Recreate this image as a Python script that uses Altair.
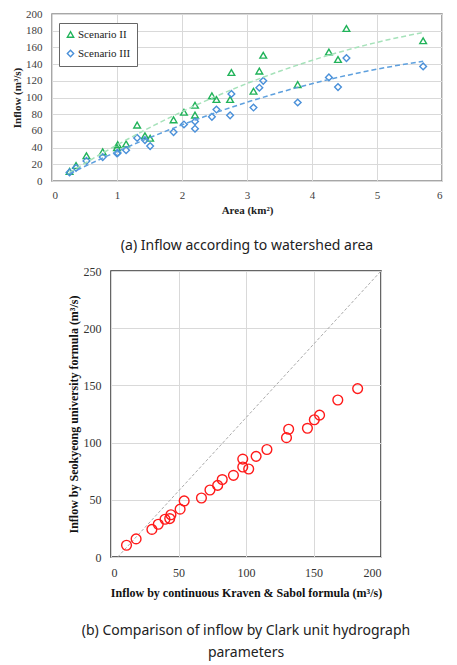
import altair as alt
import pandas as pd

# ---- data ----
area = [0.27, 0.37, 0.53, 0.78, 1.00, 1.01, 1.14, 1.31, 1.43, 1.51, 1.87, 2.03, 2.20,
        2.20, 2.46, 2.53, 2.74, 2.76, 3.10, 3.19, 3.25, 3.78, 4.26, 4.40, 4.53, 5.71]
scenario_2 = [11.5, 18.6, 30.3, 35.0, 40.0, 43.5, 44.4, 67.0, 54.2, 51.2, 73.3, 82.4, 90.7,
              79.0, 102.0, 97.6, 97.6, 130.0, 107.5, 131.6, 150.6, 115.5, 154.5, 145.5, 182.7, 168.0]
scenario_3 = [10.3, 15.8, 24.1, 28.6, 33.0, 33.6, 36.9, 51.6, 49.0, 41.8, 58.6, 67.7, 71.4,
              62.6, 76.9, 85.6, 78.7, 104.3, 88.0, 111.7, 120.0, 94.0, 124.0, 112.5, 147.2, 137.2]
series_names = ["Scenario II", "Scenario III"]
diag_x = [5, 200]
diag_y = [0, 250]

top_x_ticks = [0, 1, 2, 3, 4, 5, 6]
top_y_ticks = [0, 20, 40, 60, 80, 100, 120, 140, 160, 180, 200]
bot_x_ticks = [0, 50, 100, 150, 200]
bot_y_ticks = [0, 50, 100, 150, 200, 250]

GREEN = "#21b35a"
BLUE = "#4a90d9"
GREEN_LINE = "#a6e2ba"
BLUE_LINE = "#5ea0de"
SERIF = "Liberation Serif"
SANS = "Noto Sans"

long_df = pd.DataFrame({
    "area": area + area,
    "value": scenario_2 + scenario_3,
    "series": [series_names[0]] * len(area) + [series_names[1]] * len(area),
})
wide_df = pd.DataFrame({"II": scenario_2, "III": scenario_3})
diag_df = pd.DataFrame({"x": diag_x, "y": diag_y})

# ---- top chart ----
top_axis_common = dict(labelFont=SERIF, labelFontSize=11, labelColor="#404040",
                       titleFont=SERIF, titleFontSize=11, titleFontWeight="bold",
                       titleColor="#222", gridColor="#d9d9d9", ticks=False, domain=False,
                       labelOverlap=False, format="d", tickCount=len(top_y_ticks))

x_top = alt.X("area:Q", scale=alt.Scale(domain=[0, 6], nice=False),
              axis=alt.Axis(values=top_x_ticks, title="Area (km²)", labelPadding=8, titlePadding=4,
                            **top_axis_common))
y_top = alt.Y("value:Q", scale=alt.Scale(domain=[0, 200], nice=False),
              axis=alt.Axis(values=top_y_ticks, title="Inflow (m³/s)", labelPadding=10, titlePadding=3,
                            **top_axis_common))

legend_spec = alt.Legend(title=None, orient="none", legendX=7, legendY=9,
                         strokeColor="#666", fillColor="white", padding=6,
                         labelFont=SERIF, labelFontSize=11, labelColor="#222",
                         symbolSize=40, symbolStrokeWidth=1.4, rowPadding=6,
                         labelOffset=2, symbolFillColor="white")

points_top = alt.Chart(long_df).mark_point(filled=False, strokeWidth=1.4, size=45, opacity=1).encode(
    x=x_top,
    y=y_top,
    color=alt.Color("series:N", scale=alt.Scale(domain=series_names, range=[GREEN, BLUE]),
                    legend=legend_spec),
    shape=alt.Shape("series:N", scale=alt.Scale(domain=series_names, range=["triangle-up", "diamond"]),
                    legend=legend_spec),
)

def trend(name, color):
    return alt.Chart(long_df).transform_filter(
        alt.datum.series == name
    ).transform_regression("area", "value", method="quad").mark_line(
        color=color, strokeDash=[5, 3], strokeWidth=1.5
    ).encode(x=x_top, y=y_top)

top = alt.layer(points_top, trend(series_names[0], GREEN_LINE), trend(series_names[1], BLUE_LINE)).properties(
    width=390, height=167,
    view=alt.ViewBackground(stroke="#8a8a8a", strokeWidth=1.5),
    title=alt.TitleParams("(a) Inflow according to watershed area", orient="bottom", anchor="middle",
                          font=SANS, fontSize=14, fontWeight="normal", color="#222", offset=24),
)

# ---- bottom chart ----
bot_axis_common = dict(labelFont=SERIF, labelFontSize=12, labelColor="#333",
                       titleFont=SERIF, titleFontSize=12, titleFontWeight="bold",
                       titleColor="#111", gridColor="#d9d9d9", ticks=False, domain=False,
                       labelOverlap=False)

x_bot = alt.X("x:Q", scale=alt.Scale(domain=[0, 200], nice=False),
              axis=alt.Axis(values=bot_x_ticks, title="Inflow by continuous Kraven & Sabol formula (m³/s)",
                            labelPadding=10, titlePadding=9, **bot_axis_common))
y_bot = alt.Y("y:Q", scale=alt.Scale(domain=[0, 250], nice=False),
              axis=alt.Axis(values=bot_y_ticks, title="Inflow by Seokyeong university formula (m³/s)",
                            labelPadding=10, titlePadding=3, **bot_axis_common))

points_bot = alt.Chart(wide_df).transform_calculate(
    x="datum.II", y="datum.III"
).mark_point(shape="circle", filled=False, color="#ff1a1a",
             strokeWidth=1.4, size=95, opacity=1).encode(x=x_bot, y=y_bot)

diag = alt.Chart(diag_df).mark_line(color="#a0a0a0", strokeDash=[3, 2], strokeWidth=0.9).encode(
    x=x_bot, y=y_bot)

bottom = alt.layer(diag, points_bot).properties(
    width=270, height=286,
    view=alt.ViewBackground(stroke="#333333", strokeWidth=1.5),
    title=alt.TitleParams(["(b) Comparison of inflow by Clark unit hydrograph", "parameters"],
                          orient="bottom", anchor="middle", font=SANS, fontSize=14,
                          fontWeight="normal", color="#222", offset=26, lineHeight=22),
)

spacer = alt.Chart(pd.DataFrame({"a": [0]})).mark_point(opacity=0).encode(
    x=alt.X("a:Q", axis=None), y=alt.Y("a:Q", axis=None)
).properties(width=13, height=1, view=alt.ViewBackground(stroke="transparent"))

bottom_row = alt.hconcat(spacer, bottom, spacing=0)

chart = alt.vconcat(top, bottom_row, spacing=10).properties(
    padding={"left": 10, "top": 7, "right": 5, "bottom": 5},
    background="white",
)

chart.save("out.html", embed_options={"renderer": "svg", "actions": False})
